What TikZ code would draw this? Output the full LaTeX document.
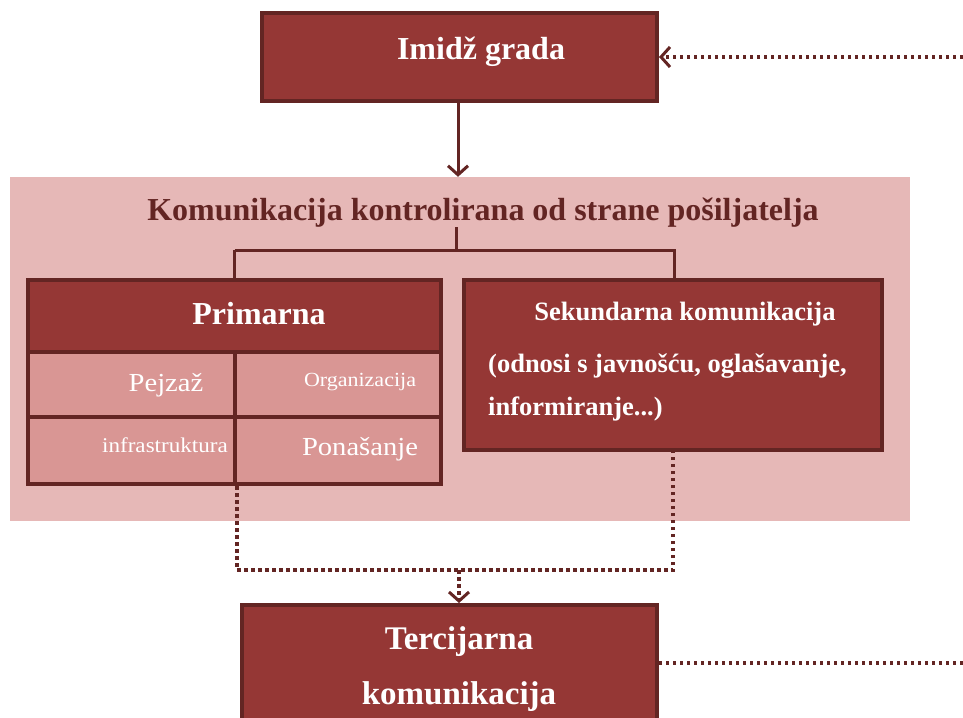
\documentclass[tikz,border=0pt]{standalone}
\usepackage{fontspec}
\setmainfont{Liberation Serif}
\usetikzlibrary{arrows.meta}
\definecolor{dred}{HTML}{953735}
\definecolor{bord}{HTML}{632523}
\definecolor{bgpink}{HTML}{E6B8B7}
\definecolor{cellpink}{HTML}{D99694}
\newcommand{\hs}[1]{\scalebox{1.1}[1]{#1}}
\tikzset{
  box/.style={draw=bord, line width=4pt, fill=dred, inner sep=0pt},
  cell/.style={draw=bord, line width=4pt, fill=cellpink, inner sep=0pt},
  boldtxt/.style={text=white, font=\bfseries\fontsize{32}{34}\selectfont, inner sep=0pt},
  terctxt/.style={text=white, font=\bfseries\fontsize{33}{35}\selectfont, inner sep=0pt},
  sektxt/.style={text=white, font=\bfseries\fontsize{26.5}{28}\selectfont, inner sep=0pt},
  celltxt/.style={text=white, inner sep=0pt},
  conn/.style={draw=bord, line width=3pt},
  dotconn/.style={draw=bord, line width=4pt, dash pattern=on 3.5pt off 3.5pt},
  tip/.style={-{Straight Barb[length=9pt,width=20pt,line width=3pt]}}
}
\begin{document}
\begin{tikzpicture}[x=1pt,y=-1pt]
\useasboundingbox (0,0) rectangle (963,717);
% background panel
\node[fill=bgpink, minimum width=900pt, minimum height=344pt, inner sep=0pt] (bg) at (460,349) {};
% top box
\node[box, minimum width=395pt, minimum height=88pt] (imidz) at (459.5,57) {};
\node[boldtxt] (imidzt) at (481,52) {Imidž grada};
% title
\node[text=bord, font=\bfseries\fontsize{32}{34}\selectfont, inner sep=0pt] (title) at (483,213) {Komunikacija kontrolirana od strane pošiljatelja};
% primarna
\node[box, minimum width=413pt, minimum height=72pt] (prim) at (234.5,316) {};
\node[boldtxt] (primt) at (259,314) {Primarna};
\node[cell, minimum width=207pt, minimum height=65pt] (c11) at (131.5,384.5) {};
\node[cell, minimum width=206pt, minimum height=65pt] (c12) at (338,384.5) {};
\node[cell, minimum width=207pt, minimum height=67pt] (c21) at (131.5,450.5) {};
\node[cell, minimum width=206pt, minimum height=67pt] (c22) at (338,450.5) {};
\node[celltxt, font=\fontsize{26}{28}\selectfont] (t11) at (166,385) {\hs{Pejzaž}};
\node[celltxt, font=\fontsize{20}{22}\selectfont] (t12) at (360,382) {\hs{Organizacija}};
\node[celltxt, font=\fontsize{21}{23}\selectfont] (t21) at (165,445) {\hs{infrastruktura}};
\node[celltxt, font=\fontsize{26}{28}\selectfont] (t22) at (360,449) {\hs{Ponašanje}};
% sekundarna
\node[box, minimum width=418pt, minimum height=170pt] (sek) at (673,365) {};
\node[sektxt] (sek1) at (685,314) {Sekundarna komunikacija};
\node[sektxt, anchor=west] (sek2) at (488,366) {(odnosi s javnošću, oglašavanje,};
\node[sektxt, anchor=west] (sek3) at (488,409) {informiranje...)};
% tercijarna
\node[box, minimum width=415pt, minimum height=140pt] (terc) at (449.5,675) {};
\node[terctxt] (terc1) at (459,642) {Tercijarna};
\node[terctxt] (terc2) at (459,697) {komunikacija};
% coordinates
\coordinate (farR1) at (963,57);
\coordinate (farR2) at (963,663);
\coordinate (tstem) at (456,227);
\coordinate (branch) at (456,250);
\coordinate (join) at (459,570);
% connectors
\draw[conn, tip] (imidz.south -| 458,0) -- (bg.north -| 458,0);
\draw[conn] (tstem) -- (branch);
\draw[conn] (branch -| prim.north) -- (branch -| 674,0) -- (674,278);
\draw[conn] (branch -| prim.north) -- (prim.north);
\draw[dotconn, tip] (farR1) -- (imidz.east);
\draw[dotconn] (farR2) -- (terc.east |- farR2);
\draw[dotconn] (c21.south east) -- (c21.south east |- join) -- (join -| sek.south) -- (sek.south);
\draw[dotconn, tip] (join) -- (terc.north -| join);
\end{tikzpicture}
\end{document}
